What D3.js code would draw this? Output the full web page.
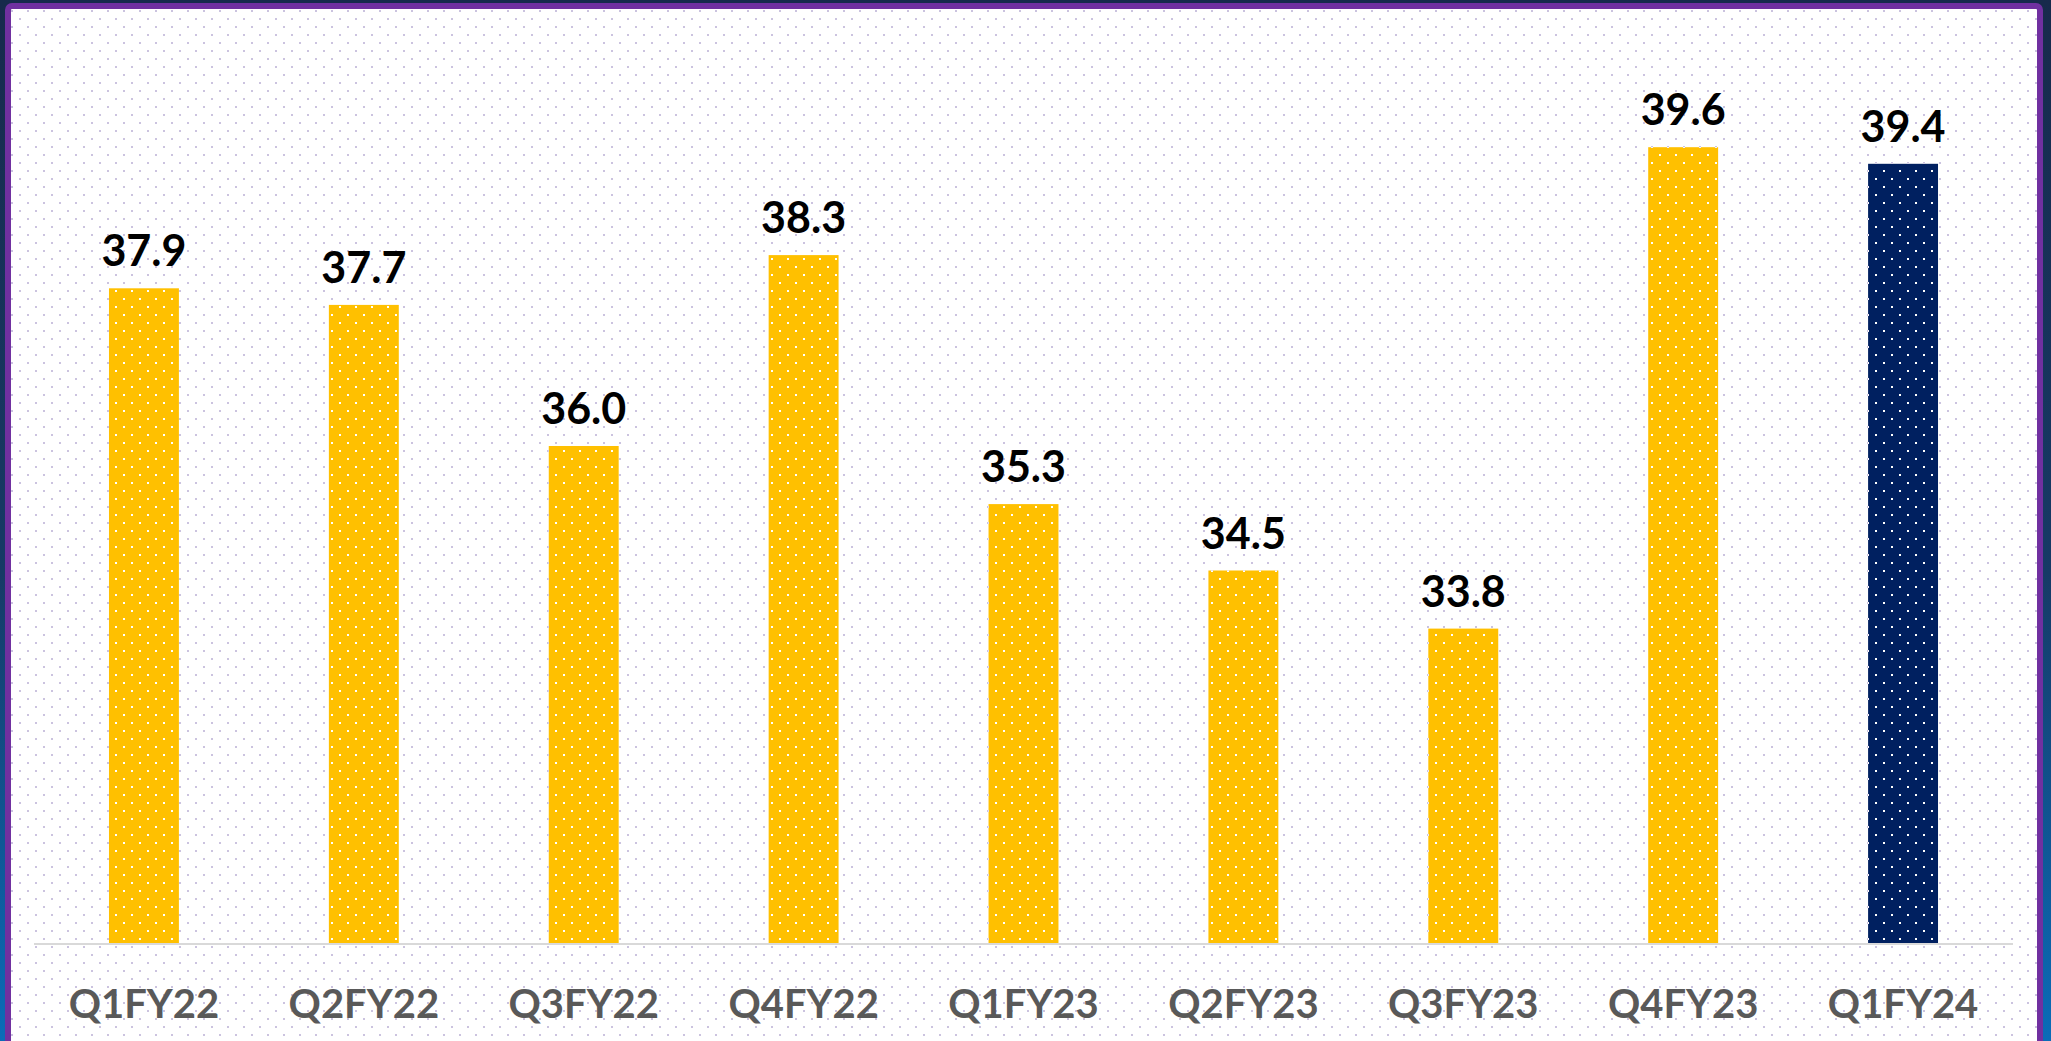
<!DOCTYPE html>
<html lang="en">
<head>
    <meta charset="UTF-8">
    <title>Quarterly bars Q1FY22 - Q1FY24</title>
    <script src="https://cdnjs.cloudflare.com/ajax/libs/d3/7.8.5/d3.min.js"></script>
    <style>
        body {
            margin: 0;
            background-color: #152a4b;
            font-family: Lato, 'Open Sans', sans-serif;
        }
        svg { display: block; }
        .value-label {
            font-family: Lato, 'Open Sans', sans-serif;
            font-weight: 700;
            font-size: 43px;
            fill: #000;
        }
        .cat-label {
            font-family: Lato, 'Open Sans', sans-serif;
            font-weight: 700;
            font-size: 40px;
            fill: #595959;
        }
    </style>
</head>
<body>
    <svg id="chart"></svg>

    <script>
        // chart data
        const quarters = ["Q1FY22", "Q2FY22", "Q3FY22", "Q4FY22", "Q1FY23", "Q2FY23", "Q3FY23", "Q4FY23", "Q1FY24"];
        const values = [37.9, 37.7, 36.0, 38.3, 35.3, 34.5, 33.8, 39.6, 39.4];
        const highlighted = ["Q1FY24"];

        const width = 2051, height = 1041;
        const svg = d3.select("#chart").attr("width", width).attr("height", height);
        const defs = svg.append("defs");

        // outer background, dark navy fading to blue at the bottom
        const bg = defs.append("linearGradient").attr("id", "bg").attr("x1", 0).attr("y1", 0).attr("x2", 0).attr("y2", 1);
        bg.append("stop").attr("offset", "0%").attr("stop-color", "#172a4c");
        bg.append("stop").attr("offset", "55%").attr("stop-color", "#163a66");
        bg.append("stop").attr("offset", "100%").attr("stop-color", "#0a6cb8");

        // dotted patterns: lavender dots on the panel, white dots on bars
        function dotPattern(id, bgColor, dotColor) {
            const p = defs.append("pattern")
                .attr("id", id)
                .attr("patternUnits", "userSpaceOnUse")
                .attr("x", 3).attr("y", 2)
                .attr("width", 16).attr("height", 16);
            if (bgColor) p.append("rect").attr("width", 16).attr("height", 16).attr("fill", bgColor);
            p.append("rect").attr("x", 0).attr("y", 0).attr("width", 2).attr("height", 2).attr("fill", dotColor);
            p.append("rect").attr("x", 8).attr("y", 8).attr("width", 2).attr("height", 2).attr("fill", dotColor);
        }
        dotPattern("panelDots", "#ffffff", "#cbc3df");
        dotPattern("yellowDots", "#ffc000", "#ffffff");
        dotPattern("navyDots", "#002060", "#ffffff");

        svg.append("rect").attr("width", width).attr("height", height).attr("fill", "url(#bg)");

        // purple framed panel
        svg.append("rect")
            .attr("x", 8).attr("y", 6)
            .attr("width", 2032).attr("height", 1070)
            .attr("rx", 4)
            .attr("fill", "url(#panelDots)")
            .attr("stroke", "#7030a0")
            .attr("stroke-width", 6);

        const plotLeft = 34, plotRight = 2013, baseY = 944;

        const x = d3.scaleBand()
            .domain(quarters)
            .range([plotLeft, plotRight])
            .paddingInner(0.682)
            .paddingOuter(0.341);

        const y = d3.scaleLinear()
            .domain([30, 40])
            .range([baseY, baseY - 830]);

        const data = quarters.map((q, i) => ({ q, v: values[i] }));

        svg.selectAll(".bar")
            .data(data)
            .enter()
            .append("rect")
            .attr("class", "bar")
            .attr("x", d => x(d.q))
            .attr("width", x.bandwidth())
            .attr("y", d => y(d.v))
            .attr("height", d => y(30) - y(d.v))
            .attr("fill", d => highlighted.includes(d.q) ? "url(#navyDots)" : "url(#yellowDots)");

        // baseline
        svg.append("line")
            .attr("x1", plotLeft).attr("x2", plotRight)
            .attr("y1", baseY).attr("y2", baseY)
            .attr("stroke", "#d9d9d9")
            .attr("stroke-width", 2);

        // value labels
        svg.selectAll(".value-label")
            .data(data)
            .enter()
            .append("text")
            .attr("class", "value-label")
            .attr("x", d => x(d.q) + x.bandwidth() / 2)
            .attr("y", d => y(d.v) - 22)
            .attr("text-anchor", "middle")
            .text(d => d.v.toFixed(1));

        // category axis labels
        const xAxis = d3.axisBottom(x).tickSize(0).tickPadding(0);
        const axisG = svg.append("g")
            .attr("transform", `translate(0, ${baseY})`)
            .call(xAxis)
            .attr("font-family", null)
            .attr("font-size", null);
        axisG.select(".domain").remove();
        axisG.selectAll("text")
            .attr("class", "cat-label")
            .attr("dy", null)
            .attr("y", 74);
    </script>
</body>
</html>
